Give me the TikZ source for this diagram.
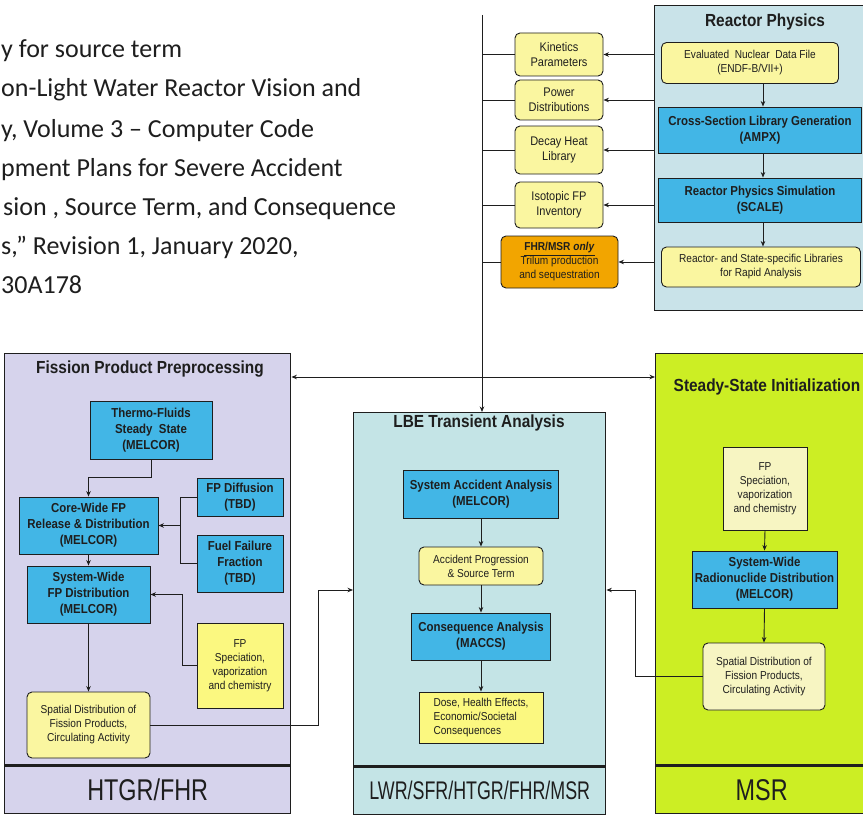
\documentclass[tikz,border=0pt]{standalone}
\usepackage{fontspec}
\newfontfamily\nsf{Liberation Sans}[FakeStretch=0.88]
\newfontfamily\nsfn{Liberation Sans}[FakeStretch=0.78]
\newfontfamily\nsfc{Liberation Sans}[FakeStretch=0.7]
\newfontfamily\carl{Carlito}
\usetikzlibrary{arrows.meta}

\definecolor{ink}{HTML}{1E1E1E}
\definecolor{rpfill}{HTML}{C9E3E9}
\definecolor{lbefill}{HTML}{C4E4E6}
\definecolor{fppfill}{HTML}{D6D3EC}
\definecolor{ssifill}{HTML}{CCEE24}
\definecolor{boxblue}{HTML}{42B6E6}
\definecolor{boxyel}{HTML}{FAF6A0}
\definecolor{boxpale}{HTML}{F7F5C2}
\definecolor{boxorange}{HTML}{F2A500}

\tikzset{
  panel/.style={draw=ink, line width=1.4pt, inner sep=0pt, anchor=north west},
  taglabel/.style={panel, text=ink, font=\nsfn\fontsize{30}{32}\selectfont},
  ptitle/.style={text=ink, inner sep=0pt, font=\nsf\bfseries\fontsize{17.5}{19}\selectfont},
  bbox/.style={draw=ink, fill=boxblue, line width=0.9pt, inner sep=1pt, align=center,
    text=ink, font=\nsf\bfseries\fontsize{13}{16}\selectfont},
  ybox/.style={draw=ink, fill=boxyel, line width=0.9pt, rounded corners=5pt, inner sep=1pt,
    align=center, text=ink, font=\nsf\fontsize{11.5}{14}\selectfont},
  ysq/.style={ybox, rounded corners=0pt},
  small/.style={font=\nsf\fontsize{12.5}{14.5}\selectfont},
  link/.style={draw=ink, line width=0.9pt},
  arr/.style={link, -{Stealth[length=5.5pt,width=4.5pt]}},
  arrs/.style={link, {Stealth[length=5.5pt,width=4.5pt]}-{Stealth[length=5.5pt,width=4.5pt]}},
  citeline/.style={anchor=base west, inner sep=0pt, text=ink, font=\carl\fontsize{26}{30}\selectfont},
  sep/.style={draw=ink, line width=3pt}
}

\begin{document}
\begin{tikzpicture}[x=1pt, y=-1pt]
\useasboundingbox (0,0) rectangle (863,816);
\fill[white] (0,0) rectangle (863,816);
\clip (0,0) rectangle (863,816);

% reference citation text
\node[citeline] (t1) at (1,58) {y for source term};
\node[citeline] (t2) at (1,97) {on-Light Water Reactor Vision and};
\node[citeline] (t3) at (1,137) {y, Volume 3 – Computer Code};
\node[citeline] (t4) at (1,176) {pment Plans for Severe Accident};
\node[citeline] (t5) at (3,215) {sion , Source Term, and Consequence};
\node[citeline] (t6) at (1,254) {s,” Revision 1, January 2020,};
\node[citeline] (t7) at (1,293) {30A178};

% ---------- panels ----------
\node[panel, fill=rpfill, minimum width=212, minimum height=305] (rp) at (654,5) {};
\node[panel, fill=fppfill, minimum width=286, minimum height=412] (fpp) at (4,353) {};
\node[taglabel, fill=fppfill, minimum width=286, minimum height=48] (fpptag) at (4,765) {HTGR/FHR};
\node[panel, fill=lbefill, minimum width=252, minimum height=354] (lbe) at (353,412) {};
\node[taglabel, fill=lbefill, minimum width=252, minimum height=48,
      font=\nsfc\fontsize{25.5}{27}\selectfont] (lbetag) at (353,766) {LWR/SFR/HTGR/FHR/MSR};
\node[panel, fill=ssifill, minimum width=212, minimum height=412] (ssi) at (655,353) {};
\node[taglabel, fill=ssifill, minimum width=212, minimum height=48] (ssitag) at (655,765) {MSR};
\draw[sep] (fpptag.north west) -- (fpptag.north east);
\draw[sep] (lbetag.north west) -- (lbetag.north east);
\draw[sep] (ssitag.north west) -- (ssitag.north east);

% ---------- Reactor Physics ----------
\node[ptitle] (rpt) at (765,22) {Reactor Physics};
\node[ybox, minimum width=177, minimum height=41] (endf) at (750,63) {Evaluated\ \ Nuclear\ \ Data File\\(ENDF-B/VII+)};
\node[bbox, minimum width=203, minimum height=46] (ampx) at (760,130) {Cross-Section Library Generation\\(AMPX)};
\node[bbox, minimum width=203, minimum height=44] (scale) at (760,200) {Reactor Physics Simulation\\(SCALE)};
\node[ybox, minimum width=199, minimum height=40] (libs) at (761,267) {Reactor- and State-specific Libraries\\for Rapid Analysis};
\coordinate (rpx) at (763,0);
\draw[arr] (endf.south -| rpx) -- (ampx.north -| rpx);
\draw[arr] (ampx.south -| rpx) -- (scale.north -| rpx);
\draw[arr] (scale.south -| rpx) -- (libs.north -| rpx);

% ---------- data products feeding the transient analysis ----------
\node[ybox, small, minimum width=88, minimum height=43] (kin) at (559,54.5) {Kinetics\\Parameters};
\node[ybox, small, minimum width=88, minimum height=40] (pow) at (559,100) {Power\\Distributions};
\node[ybox, small, minimum width=88, minimum height=48] (dec) at (559,150) {Decay Heat\\Library};
\node[ybox, small, minimum width=88, minimum height=46] (iso) at (559,205) {Isotopic FP\\Inventory};
\node[ybox, fill=boxorange, minimum width=117, minimum height=52] (fhr) at (559.5,262)
  {\underline{\textbf{FHR/MSR \textit{only}}}\\Trilum production\\and sequestration};

\coordinate (bustop) at (482,15);
\draw[arr] (bustop) -- (bustop |- lbe.north);
\foreach \b in {kin,pow,dec,iso,fhr}{
  \draw[link] (\b.west -| bustop) -- (\b.west);
  \draw[arr] (\b.east -| rp.west) -- (\b.east);
}
\coordinate (hy) at (0,377);
\draw[arrs] (fpp.east |- hy) -- (ssi.west |- hy);

% ---------- Fission Product Preprocessing ----------
\node[ptitle] (fppt) at (150,369) {Fission Product Preprocessing};
\node[bbox, minimum width=122, minimum height=58] (tf) at (151,430) {Thermo-Fluids\\Steady\ \ State\\(MELCOR)};
\node[bbox, minimum width=139, minimum height=57] (cw) at (88.5,525.5) {Core-Wide FP\\Release \& Distribution\\(MELCOR)};
\node[bbox, minimum width=123, minimum height=57] (sw) at (88.5,594.5) {System-Wide\\FP Distribution\\(MELCOR)};
\node[bbox, minimum width=86, minimum height=38] (fpd) at (240,497) {FP Diffusion\\(TBD)};
\node[bbox, minimum width=86, minimum height=57] (fff) at (240,563.5) {Fuel Failure\\Fraction\\(TBD)};
\node[ysq, fill=boxyel!80!yellow, minimum width=86, minimum height=85] (fps) at (240,665.5) {FP\\Speciation,\\vaporization\\and chemistry};
\node[ybox, minimum width=123, minimum height=66] (sd) at (88.5,725) {Spatial Distribution of\\Fission Products,\\Circulating Activity};

\draw[arr] (tf.south) -- ++(0,18) -| (cw.north);
\coordinate (fj) at (180,525.5);
\draw[link] (fpd.west) -| (fj);
\draw[link] (fff.west) -| (fj);
\draw[arr] (fj) -- (cw.east);
\draw[arr] (cw.south) -- (sw.north);
\coordinate (fsj) at (182,594.5);
\draw[arr] (fps.west) -| (fsj) -- (sw.east);
\draw[arr] (sw.south) -- (sd.north);
\coordinate (sdj) at (318,590);
\draw[arr] (sd.east) -| (sdj) -- (sdj -| lbe.west);

% ---------- LBE Transient Analysis ----------
\node[ptitle] (lbet) at (479,423) {LBE Transient Analysis};
\node[bbox, minimum width=155, minimum height=48] (saa) at (481,494) {System Accident Analysis\\(MELCOR)};
\node[ybox, minimum width=124, minimum height=38] (aps) at (481,566) {Accident Progression\\\& Source Term};
\node[bbox, minimum width=139, minimum height=47] (ca) at (481,636.5) {Consequence Analysis\\(MACCS)};
\node[ysq, fill=boxyel!80!yellow, minimum width=124, minimum height=51, align=left] (dose) at (481,717.5) {Dose, Health Effects,\\Economic/Societal\\Consequences};
\draw[arr] (saa.south) -- (aps.north);
\draw[arr] (aps.south) -- (ca.north);
\draw[arr] (ca.south) -- (dose.north);

% ---------- Steady-State Initialization ----------
\node[ptitle] (ssit) at (767,387) {Steady-State Initialization};
\node[ysq, fill=boxpale, minimum width=84, minimum height=83] (sfps) at (765,488.5) {FP\\Speciation,\\vaporization\\and chemistry};
\node[bbox, minimum width=145, minimum height=57] (swr) at (764.5,579.5) {System-Wide\\Radionuclide Distribution\\(MELCOR)};
\node[ybox, fill=boxpale, minimum width=122, minimum height=67] (ssd) at (764,676.5) {Spatial Distribution of\\Fission Products,\\Circulating Activity};
\draw[arr] (sfps.south) -- (swr.north);
\draw[arr] (swr.south) -- (ssd.north);
\coordinate (ssj) at (635,590);
\draw[arr] (ssd.west) -| (ssj) -- (ssj -| lbe.east);
\end{tikzpicture}
\end{document}
